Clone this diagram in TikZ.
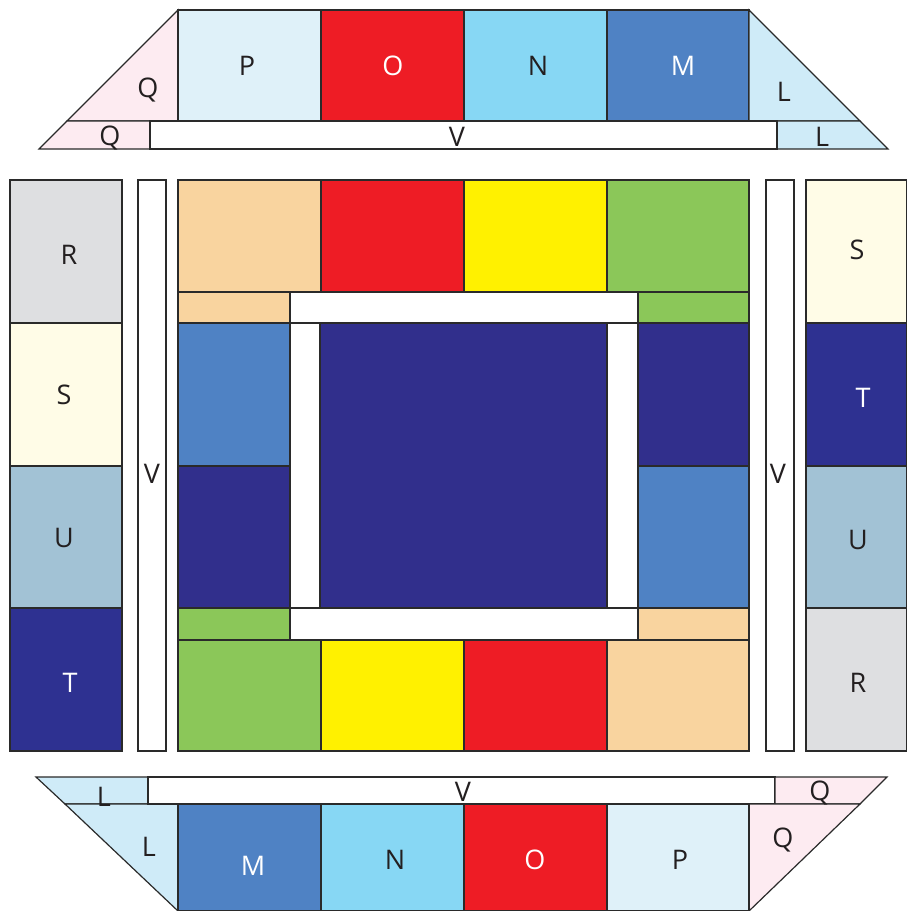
\documentclass[tikz,border=0pt]{standalone}
\usepackage{fontspec}
\setmainfont{Open Sans}
\definecolor{cOr}{HTML}{F9D49F}
\definecolor{cRed}{HTML}{EE1C25}
\definecolor{cYel}{HTML}{FFF100}
\definecolor{cGrn}{HTML}{8BC759}
\definecolor{cBlu}{HTML}{4F82C4}
\definecolor{cNav}{HTML}{312F8C}
\definecolor{cSky}{HTML}{87D7F4}
\definecolor{cP}{HTML}{DFF1F9}
\definecolor{cQ}{HTML}{FDEBF1}
\definecolor{cL}{HTML}{CFEBF8}
\definecolor{cR}{HTML}{DEDFE1}
\definecolor{cS}{HTML}{FFFCE7}
\definecolor{cU}{HTML}{A2C2D5}
\definecolor{cT}{HTML}{2E3191}
\definecolor{cLine}{HTML}{2A2A2A}
\definecolor{cTxt}{HTML}{231F20}
\tikzset{
  part/.style={draw=cLine, line width=1.2pt, line join=miter},
  lab/.style={font=\fontsize{27}{27}\selectfont, text=cTxt, inner sep=0pt},
  wlab/.style={lab, text=white},
}
\newcommand\bx[5]{\filldraw[part, fill=#5] (#1,#2) rectangle (#3,#4);}
\begin{document}
\begin{tikzpicture}[x=1pt,y=-1pt]
\useasboundingbox (0,0) rectangle (907,911);
% ---------- top section ----------
\filldraw[part, fill=cQ] (178,10) -- (178,121) -- (67,121) -- cycle;
\filldraw[part, fill=cQ] (67,121) -- (150,121) -- (150,149) -- (39,149) -- cycle;
\bx{178}{10}{321}{121}{cP}
\bx{321}{10}{464}{121}{cRed}
\bx{464}{10}{607}{121}{cSky}
\bx{607}{10}{749}{121}{cBlu}
\filldraw[part, fill=cL] (749,10) -- (860,121) -- (749,121) -- cycle;
\filldraw[part, fill=cL] (777,121) -- (860,121) -- (888,149) -- (777,149) -- cycle;
\bx{150}{121}{777}{149}{white}
\node[lab] (tP) at (247,66) {P};
\node[wlab] (tO) at (393,66) {O};
\node[lab] (tN) at (538,66) {N};
\node[wlab] (tM) at (683,66) {M};
\node[lab] (tQ1) at (148,90) {Q};
\node[lab] (tL1) at (784,92) {L};
\node[lab] (tQ2) at (110,138) {Q};
\node[lab] (tV) at (457,137) {V};
\node[lab] (tL2) at (822,137) {L};
% ---------- left column ----------
\bx{10}{180}{122}{323}{cR}
\bx{10}{323}{122}{466}{cS}
\bx{10}{466}{122}{608}{cU}
\bx{10}{608}{122}{751}{cT}
\bx{138}{180}{166}{751}{white}
\node[lab] (lR) at (69,255) {R};
\node[lab] (lS) at (64,395) {S};
\node[lab] (lU) at (64,538) {U};
\node[wlab] (lT) at (70,683) {T};
\node[lab] (lV) at (152,474) {V};
% ---------- right column ----------
\bx{766}{180}{794}{751}{white}
\bx{806}{180}{907}{323}{cS}
\bx{806}{323}{907}{466}{cT}
\bx{806}{466}{907}{608}{cU}
\bx{806}{608}{907}{751}{cR}
\node[lab] (rV) at (778,474) {V};
\node[lab] (rS) at (857,250) {S};
\node[wlab] (rT) at (863,398) {T};
\node[lab] (rU) at (858,540) {U};
\node[lab] (rR) at (858,683) {R};
% ---------- centre ----------
\bx{178}{180}{321}{292}{cOr}
\bx{321}{180}{464}{292}{cRed}
\bx{464}{180}{607}{292}{cYel}
\bx{607}{180}{749}{292}{cGrn}
\bx{178}{292}{290}{323}{cOr}
\bx{290}{292}{638}{323}{white}
\bx{638}{292}{749}{323}{cGrn}
\bx{178}{323}{290}{466}{cBlu}
\bx{178}{466}{290}{608}{cNav}
\bx{290}{323}{320}{608}{white}
\bx{320}{323}{607}{608}{cNav}
\bx{607}{323}{638}{608}{white}
\bx{638}{323}{749}{466}{cNav}
\bx{638}{466}{749}{608}{cBlu}
\bx{178}{608}{290}{640}{cGrn}
\bx{290}{608}{638}{640}{white}
\bx{638}{608}{749}{640}{cOr}
\bx{178}{640}{321}{751}{cGrn}
\bx{321}{640}{464}{751}{cYel}
\bx{464}{640}{607}{751}{cRed}
\bx{607}{640}{749}{751}{cOr}
% ---------- bottom section ----------
\filldraw[part, fill=cL] (36,777) -- (148,777) -- (148,804) -- (65,804) -- cycle;
\filldraw[part, fill=cL] (65,804) -- (178,804) -- (178,911) -- cycle;
\bx{148}{777}{775}{804}{white}
\filldraw[part, fill=cQ] (775,777) -- (887,777) -- (860,804) -- (775,804) -- cycle;
\filldraw[part, fill=cQ] (749,804) -- (860,804) -- (749,911) -- cycle;
\bx{178}{804}{321}{911}{cBlu}
\bx{321}{804}{464}{911}{cSky}
\bx{464}{804}{607}{911}{cRed}
\bx{607}{804}{749}{911}{cP}
\node[lab] (bL1) at (104,797) {L};
\node[lab] (bV) at (463,792) {V};
\node[lab] (bQ1) at (820,793) {Q};
\node[lab] (bL2) at (149,847) {L};
\node[wlab] (bM) at (253,866) {M};
\node[lab] (bN) at (395,860) {N};
\node[wlab] (bO) at (535,860) {O};
\node[lab] (bP) at (680,860) {P};
\node[lab] (bQ2) at (783,840) {Q};
\end{tikzpicture}
\end{document}
